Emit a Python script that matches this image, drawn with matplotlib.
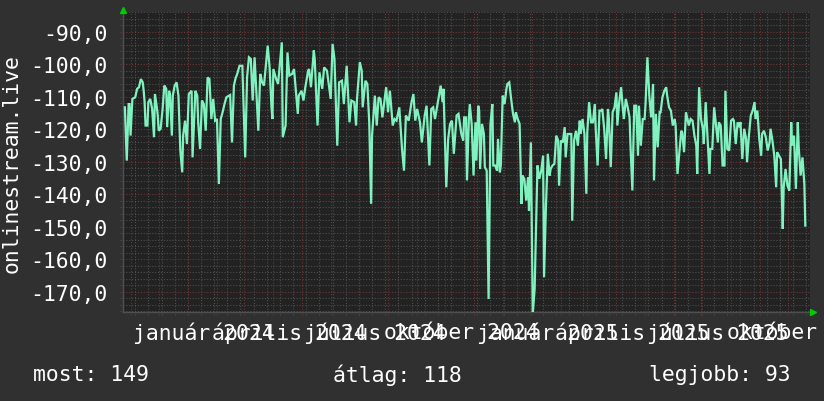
import numpy as np
import matplotlib
matplotlib.use('Agg')
import matplotlib.pyplot as plt
import matplotlib.dates as mdates
from matplotlib.transforms import blended_transform_factory, offset_copy

# ---------------- data ----------------
START = np.datetime64('2023-10-24')
END = np.datetime64('2025-10-24')

days_part1 = [2,4,6,7,8,10,13,15,17,19,21,22,23,24,26,27,29,31,33,34,36,37,38,40,42,44,46,47,49,50,
              52,53,55,57,59,61,63,64,66,68,70,73,74,77,79,80,82,84,86,88,90,92,94,96,98,100,102,104,106,108,
              110,114,116,118,120,121,124,127,130,132,134,136,138,140,144,146,148,150,152,154,156,158,159,160,163,165,169,170,173,175,
              177,180,182,186,187,190,192,194,197,198,200,203,204,207,209,212,214,217,221,223,225,228,230,233,235,238,240,241,243,246,
              248,249,252,254,255,258,260,262,264,265,268,270,272,274,276,280,282,284,287,289,291,294,297,299,301,304,307,309,311,313,
              316,318,321,323,326,328,330,332,335,338,340,341,344,346,348,350,352,355,357]
values_part1 = [-113.2,-129.6,-112.2,-112.2,-121.9,-110.6,-110.1,-107.5,-107.0,-104.5,-105.5,-108.1,-111.6,-118.8,-118.8,-111.6,-110.6,-113.7,-122.4,-109.1,
                -113.2,-115.7,-120.4,-119.8,-114.2,-106.5,-107.5,-119.3,-108.1,-109.1,-121.9,-109.6,-106.5,-105.5,-109.6,-126.5,-133.2,-121.9,-117.3,-124.5,
                -109.1,-108.1,-128.6,-108.1,-109.6,-117.8,-126.0,-111.1,-112.2,-120.4,-104.0,-104.5,-116.8,-110.6,-117.3,-116.8,-136.8,-116.8,-114.7,-112.2,
                -110.1,-109.4,-124.0,-106.5,-104.0,-103.4,-100.4,-100.4,-128.6,-104.0,-97.8,-98.3,-111.1,-97.8,-120.4,-102.9,-105.5,-106.5,-100.4,-94.2,
                -100.9,-113.2,-116.8,-101.4,-104.5,-106.0,-93.2,-122.4,-118.8,-96.3,-103.4,-102.9,-101.4,-115.2,-109.6,-108.1,-111.1,-107.0,-101.9,-101.4,
                -107.0,-95.7,-98.3,-118.8,-102.4,-107.5,-100.9,-101.9,-110.6,-93.7,-98.3,-125.0,-105.5,-105.0,-112.2,-100.4,-112.2,-117.8,-111.1,-111.6,
                -118.8,-110.6,-99.3,-101.9,-113.2,-105.0,-106.0,-117.8,-142.9,-121.9,-109.6,-118.8,-110.1,-110.6,-116.3,-107.0,-114.7,-108.1,-118.8,-116.8,
                -117.3,-113.2,-126.5,-132.7,-115.7,-117.3,-111.6,-109.1,-117.3,-113.7,-117.8,-124.0,-115.7,-112.7,-131.1,-113.7,-113.2,-116.8,-111.6,-106.5,
                -111.6,-107.5,-137.8,-122.9,-118.3,-117.3,-127.5,-115.7,-115.2]

days_part2 = [360,362,363,365,366,368,369,371,373,375,376,378,379,380,382,384,385,387,389,391,393,394,396,398,399,401,402,404,406,408,
              409,411,413,415,417,418,420,422,424,425,427,429,431,432,434,436,438,440,441,443,445,447,448,450,452,454,455,457,459,461,
              463,464,466,468,470,471,473,475,477,478,480,482,484,486,487,489,491,493,494,496,498,500,502,503,505,507,509,510,512,514,
              516,517,519,521,523,525,526,528,530,532,533,535,537,539,540,542,544,546,548,549,551,553,555,556,558,560,562,564,565,567,
              569,571,572,574,576,578,579,581,583,585,587,588,590,592,594,595,597,599,601,602,604,606,608,610,611,613,615,617,618,620,
              622,624,625,627,629,631,633,634,636,638,640,641,643,645,647,649,650,652,654,656,657,659,661,663,664,666,668,670,672,673,
              675,677,679,680,682,684,686,688,689,691,693,695,696,698,700,702,703,705,707,709,711,712,714,716,718,719,721,723,725,726]
values_part2 = [-121.4,-123.4,-116.3,-116.3,-135.7,-116.8,-112.2,-118.3,-134.2,-117.8,-129.6,-112.7,-114.2,-132.2,-118.3,-121.4,-131.6,-132.7,-172.2,-118.3,
                -112.2,-131.1,-131.1,-132.7,-122.9,-133.2,-131.1,-109.6,-112.2,-107.5,-106.0,-105.5,-110.6,-115.2,-117.8,-114.7,-116.8,-118.3,-142.9,-134.2,
                -135.2,-141.9,-134.7,-145.0,-124.0,-176.8,-169.1,-143.4,-131.1,-135.2,-132.7,-128.1,-165.5,-144.0,-127.5,-134.2,-132.2,-131.1,-130.6,-121.9,
                -123.4,-137.3,-123.4,-124.0,-119.3,-128.6,-121.4,-121.4,-121.4,-148.1,-123.4,-120.4,-125.0,-117.3,-121.4,-116.8,-121.4,-139.8,-120.9,-111.6,
                -117.8,-117.8,-112.2,-119.8,-131.1,-114.2,-114.2,-113.7,-119.8,-129.1,-113.7,-116.8,-131.6,-114.7,-113.2,-108.6,-118.8,-111.6,-107.0,-114.2,
                -116.8,-110.6,-113.2,-116.3,-125.0,-138.8,-112.7,-112.7,-128.1,-112.7,-125.0,-116.8,-116.8,-112.2,-97.8,-109.6,-116.3,-106.0,-135.7,-115.2,
                -125.5,-114.7,-114.7,-110.1,-108.1,-107.0,-109.6,-113.2,-114.2,-118.8,-116.8,-118.8,-133.7,-127.0,-120.4,-120.9,-127.0,-114.7,-117.3,-118.8,
                -116.8,-117.3,-121.9,-125.0,-133.7,-107.0,-116.8,-119.8,-124.5,-111.6,-122.4,-133.7,-126.0,-126.0,-113.2,-118.8,-124.0,-117.8,-118.8,-131.1,
                -131.1,-108.1,-126.0,-126.5,-117.3,-116.8,-117.3,-124.5,-117.8,-119.3,-117.8,-129.1,-119.8,-122.9,-130.1,-121.9,-115.7,-114.2,-111.6,-116.8,
                -114.2,-122.9,-128.1,-121.4,-120.4,-122.4,-126.5,-124.0,-119.8,-123.4,-128.1,-137.8,-127.0,-128.1,-129.1,-150.6,-137.8,-132.2,-137.3,-138.8,
                -117.8,-125.0,-121.9,-138.3,-117.8,-125.5,-134.2,-128.6,-136.8,-149.6]

y_ticks = [-170, -160, -150, -140, -130, -120, -110, -100, -90]
x_label_dates = ['2024-01-18', '2024-04-18', '2024-07-18', '2024-10-18',
                 '2025-01-18', '2025-04-18', '2025-07-18', '2025-10-18']
x_label_texts = ['január 2024', 'április 2024', 'július 2024', 'október 2024',
                 'január 2025', 'április 2025', 'július 2025', 'október 2025']
legend_texts = ['most: 149', 'átlag: 118', 'legjobb: 93']
y_title = 'onlinestream.live'

# ---------------- style ----------------
BG = '#303030'
PLOT_BG = '#222222'
LINE = '#80f2c0'
MAJOR = '#6e3434'
MINOR = '#4e4e4e'
AXIS = '#505050'
ARROW = '#00cc00'
TXT = '#ffffff'
FONT = 'DejaVu Sans Mono'
FS = 15.4

W, H = 824, 402
fig = plt.figure(figsize=(W / 100, H / 100), dpi=100, facecolor=BG)
L, R, T, B = 123, 810, 13, 313
ax = fig.add_axes([L / W, (H - B) / H, (R - L) / W, (B - T) / H])
ax.set_facecolor(PLOT_BG)

days = np.array(days_part1 + days_part2)
vals = np.array(values_part1 + values_part2)
dates = START + days.astype('timedelta64[D]')

x0 = mdates.date2num(START)
x1 = mdates.date2num(END)
ax.set_xlim(x0, x1)
ax.set_ylim(-176.2, -83.85)

pxx = 3.0 / (R - L)
pxy = 3.0 / (B - T)

# horizontal grid
for v in np.arange(-176, -83, 2):
    major = (v % 10 == 0)
    ax.axhline(v, xmin=-pxx, xmax=1, color=MAJOR if major else MINOR,
               lw=0.8, ls=(0, (1, 1.6)), clip_on=False, zorder=1)

# vertical grid: monthly major, two-weekly minor
months = np.arange(np.datetime64('2023-11'), np.datetime64('2025-11'), np.timedelta64(1, 'M')).astype('datetime64[D]')
fortnights = np.arange(np.datetime64('2023-10-23'), END, np.timedelta64(14, 'D'))
for d in fortnights:
    if d < START:
        continue
    ax.axvline(mdates.date2num(d), ymin=-pxy, ymax=1, color=MINOR, lw=0.8,
               ls=(0, (1, 1.6)), clip_on=False, zorder=1)
for d in months:
    ax.axvline(mdates.date2num(d), ymin=-pxy, ymax=1, color=MAJOR, lw=0.8,
               ls=(0, (1, 1.6)), clip_on=False, zorder=1.5)

ax.plot(dates, vals, color=LINE, lw=1.6, zorder=3, solid_joinstyle='miter')

for s in ['top', 'right']:
    ax.spines[s].set_visible(False)
for s in ['left', 'bottom']:
    ax.spines[s].set_color(AXIS)
    ax.spines[s].set_linewidth(1.0)

ax.set_xticks([])
ax.set_yticks(y_ticks)
ax.set_yticklabels([f"{v:.1f}".replace('.', ',') for v in y_ticks],
                   family=FONT, fontsize=FS, color=TXT)
ax.tick_params(axis='y', length=0, pad=11)

# arrows
ax.plot([0], [1], marker='^', ms=4.5, color=ARROW, clip_on=False, zorder=5,
        transform=offset_copy(ax.transAxes, fig=fig, x=0, y=2, units='dots'))
ax.plot([1], [0], marker='>', ms=4.5, color=ARROW, clip_on=False, zorder=5,
        transform=offset_copy(ax.transAxes, fig=fig, x=3, y=0, units='dots'))

# x labels
tr = blended_transform_factory(ax.transData, fig.transFigure)
for d, t in zip(x_label_dates, x_label_texts):
    ax.text(mdates.date2num(np.datetime64(d)), (H - 333) / H, t, transform=tr,
            ha='center', va='center', family=FONT, fontsize=FS, color=TXT, clip_on=False)

fig.text(12 / W, (H - 164) / H, y_title, rotation=90, ha='center', va='center',
         family=FONT, fontsize=FS, color=TXT)

fig.text(33 / W, (H - 375) / H, legend_texts[0], ha='left', va='center', family=FONT, fontsize=FS, color=TXT)
fig.text(333 / W, (H - 375) / H, legend_texts[1], ha='left', va='center', family=FONT, fontsize=FS, color=TXT)
fig.text(791 / W, (H - 375) / H, legend_texts[2], ha='right', va='center', family=FONT, fontsize=FS, color=TXT)

fig.savefig('out.png', dpi=100, facecolor=BG)
